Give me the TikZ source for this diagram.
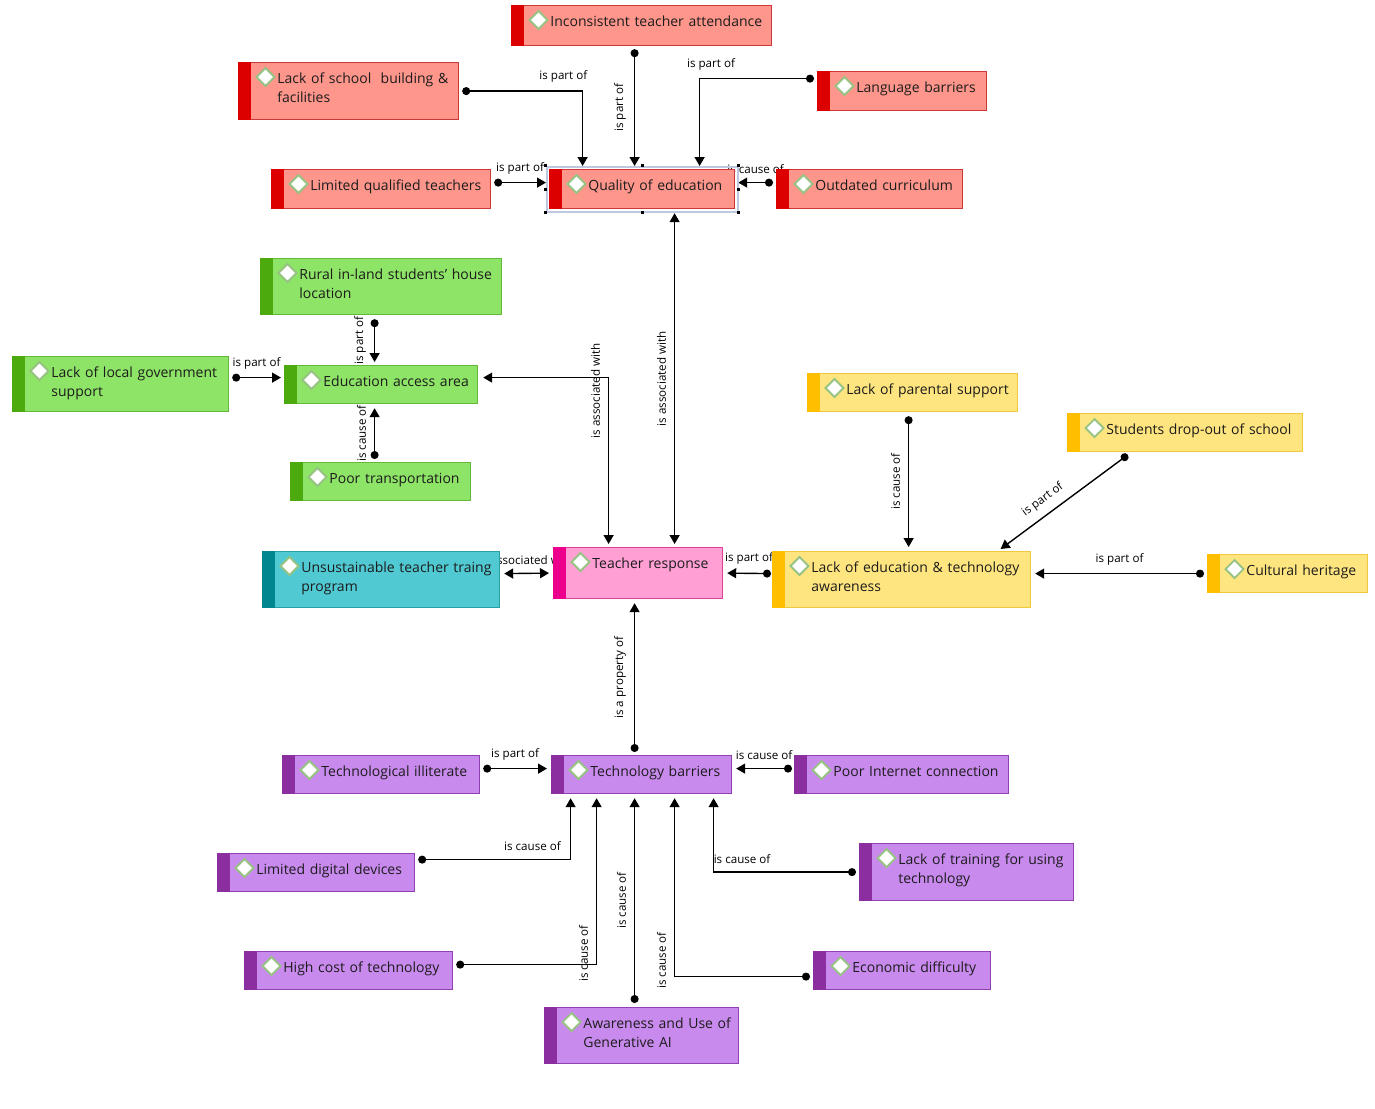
\documentclass[tikz,border=0pt]{standalone}
\usepackage{fontspec}
\setmainfont{Open Sans}
\usetikzlibrary{arrows.meta}
\usetikzlibrary{backgrounds}

\definecolor{redfill}{RGB}{255,150,140}
\definecolor{redbar}{RGB}{220,0,0}
\definecolor{redline}{RGB}{205,55,55}
\definecolor{greenfill}{RGB}{142,228,102}
\definecolor{greenbar}{RGB}{76,170,14}
\definecolor{greenline}{RGB}{98,184,58}
\definecolor{tealfill}{RGB}{80,201,210}
\definecolor{tealbar}{RGB}{0,134,143}
\definecolor{tealline}{RGB}{40,160,168}
\definecolor{pinkfill}{RGB}{255,159,212}
\definecolor{pinkbar}{RGB}{236,0,140}
\definecolor{pinkline}{RGB}{224,64,154}
\definecolor{yellowfill}{RGB}{255,229,127}
\definecolor{yellowbar}{RGB}{255,191,0}
\definecolor{yellowline}{RGB}{240,200,60}
\definecolor{purplefill}{RGB}{201,138,238}
\definecolor{purplebar}{RGB}{139,47,160}
\definecolor{purpleline}{RGB}{144,64,176}
\definecolor{iconline}{RGB}{150,195,130}
\definecolor{textgray}{RGB}{28,28,28}
\definecolor{selblue}{RGB}{190,200,225}

\tikzset{
  conceptshape/.style={draw=#1line, fill=#1fill, line width=0.6pt, inner sep=0pt},
  icon/.style={draw=iconline, fill=white, line width=0.9pt},
  nodetext/.style={font=\fontsize{7}{9.5}\selectfont, text=textgray, text width=125pt, align=left, inner sep=0pt},
  rel/.style={font=\fontsize{5.8}{7}\selectfont, inner sep=4pt, anchor=south},
  link/.style={line width=0.7pt, {Circle[length=4pt]}-{Triangle[length=4.5pt,width=5pt]}},
  twoway/.style={line width=0.7pt, {Triangle[length=4.5pt,width=5pt]}-{Triangle[length=4.5pt,width=5pt]}},
  selframe/.style={draw=selblue, line width=1pt, inner sep=0pt, minimum width=95.5pt, minimum height=22.5pt},
}

% name, colour, x, y, width, height, text
\newcommand{\conceptbox}[7]{%
  \node[conceptshape=#2, minimum width=#5*0.5pt, minimum height=#6*0.5pt, anchor=north west] (#1) at (#3,#4) {};
  \fill[#2bar] (#1.north west) rectangle ([xshift=6.5pt]#1.south west);
  \filldraw[icon] ([xshift=13.75pt,yshift=-7.5pt]#1.north west) +(-4.5pt,0) -- +(0,4.5pt) -- +(4.5pt,0) -- +(0,-4.5pt) -- cycle;
  \node[nodetext, anchor=base west] (#1-text) at ([xshift=19.5pt,yshift=-10.5pt]#1.north west) {#7};
}

\begin{document}
\begin{tikzpicture}[x=0.5pt,y=-0.5pt]
\useasboundingbox (0,0) rectangle (1375,1108);

% quality of education
\conceptbox{inc}{red}{511}{5}{260}{40}{Inconsistent teacher attendance}
\conceptbox{bldg}{red}{238}{62}{220}{57}{Lack of school~~building \&\\facilities}
\conceptbox{lang}{red}{817}{71}{169}{39}{Language barriers}
\conceptbox{lqt}{red}{271}{169}{219}{39}{Limited qualified teachers}
\conceptbox{qual}{red}{549}{169}{185}{39}{Quality of education}
\conceptbox{curr}{red}{776}{169}{186}{39}{Outdated curriculum}
% access
\conceptbox{rural}{green}{260}{258}{241}{56}{Rural in-land students' house\\location}
\conceptbox{govt}{green}{12}{356}{216}{55}{Lack of local government\\support}
\conceptbox{access}{green}{284}{365}{193}{38}{Education access area}
\conceptbox{transp}{green}{290}{462}{180}{38}{Poor transportation}
% teachers
\conceptbox{train}{teal}{262}{551}{237}{56}{Unsustainable teacher traing\\program}
\conceptbox{resp}{pink}{553}{547}{169}{51}{Teacher response}
% awareness
\conceptbox{parent}{yellow}{807}{373}{210}{38}{Lack of parental support}
\conceptbox{dropout}{yellow}{1067}{413}{235}{38}{Students drop-out of school}
\conceptbox{aware}{yellow}{772}{551}{258}{56}{Lack of education \& technology\\awareness}
\conceptbox{culture}{yellow}{1207}{554}{160}{38}{Cultural heritage}
% technology
\conceptbox{illit}{purple}{282}{755}{197}{38}{Technological illiterate}
\conceptbox{techbar}{purple}{551}{755}{180}{38}{Technology barriers}
\conceptbox{internet}{purple}{794}{755}{214}{38}{Poor Internet connection}
\conceptbox{devices}{purple}{217}{853}{197}{38}{Limited digital devices}
\conceptbox{skills}{purple}{859}{843}{214}{57}{Lack of training for using\\technology}
\conceptbox{cost}{purple}{244}{951}{208}{38}{High cost of technology}
\conceptbox{econ}{purple}{813}{951}{177}{38}{Economic difficulty}
\conceptbox{genai}{purple}{544}{1007}{194}{56}{Awareness and Use of\\Generative AI}

\begin{pgfonlayer}{background}
\fill[white] (0,0) rectangle (1375,1108);
% into quality of education
\draw[link] ([xshift=-3.5pt,yshift=-1.5pt]inc.south) -- ([xshift=-3.75pt,yshift=1.5pt]qual.north) node[rel,midway,rotate=90] {is part of};
\draw[link] ([xshift=1.5pt]bldg.east) -| ([xshift=-29.75pt,yshift=1.5pt]qual.north) node[rel,pos=0.42] {is part of};
\draw[link] ([xshift=-1.5pt,yshift=6.25pt]lang.west) -| ([xshift=28.75pt,yshift=1.5pt]qual.north) node[rel,pos=0.45] {is part of};
\draw[link] ([xshift=1.5pt,yshift=3.25pt]lqt.east) -- ([xshift=-1.5pt,yshift=3.25pt]qual.west) node[rel,midway] {is part of};
\draw[link] ([xshift=-1.5pt,yshift=3.25pt]curr.west) -- ([xshift=1.5pt,yshift=3.25pt]qual.east) node[rel,midway] {is cause of};
\draw[twoway] ([xshift=16.25pt,yshift=-2pt]qual.south) -- ([xshift=18.25pt,yshift=1.5pt]resp.north) node[rel,midway,rotate=90] {is associated with};
% into education access area
\draw[twoway] ([xshift=2.5pt,yshift=3.5pt]access.east) -| ([xshift=-14.75pt,yshift=1.5pt]resp.north) node[rel,pos=0.54,rotate=90] {is associated with};
\draw[link] ([xshift=-3.25pt,yshift=-2pt]rural.south) -- ([xshift=-3.25pt,yshift=1.5pt]access.north) node[rel,midway,rotate=90] {is part of};
\draw[link] ([xshift=1.5pt,yshift=3.25pt]govt.east) -- ([xshift=-1.5pt,yshift=3.5pt]access.west) node[rel,midway] {is part of};
\draw[link] ([xshift=-3pt,yshift=1.5pt]transp.north) -- ([xshift=-3.25pt,yshift=-2pt]access.south) node[rel,midway,rotate=90] {is cause of};
% into teacher response
\draw[twoway] ([xshift=2pt,yshift=3pt]train.east) -- ([xshift=-2pt]resp.west) node[rel,midway] {is associated with};
\draw[link] ([xshift=-0.5pt,yshift=3pt]aware.west) -- ([xshift=2pt]resp.east) node[rel,midway] {is part of};
\draw[link] ([xshift=-3.5pt,yshift=1.5pt]techbar.north) -- ([xshift=-1.75pt,yshift=-2pt]resp.south) node[rel,midway,rotate=90] {is a property of};
% into awareness
\draw[link] ([xshift=-2pt,yshift=-2pt]parent.south) -- ([xshift=3.5pt,yshift=2pt]aware.north) node[rel,midway,rotate=90] {is cause of};
\draw[link] ([xshift=-28.65pt,yshift=-1.3pt]dropout.south) -- ([xshift=49.5pt,yshift=1pt]aware.north) node[rel,pos=0.6,sloped] {is part of};
\draw[link] ([xshift=-1.5pt]culture.west) -- ([xshift=2pt,yshift=3pt]aware.east) node[rel,midway] {is part of};
% into technology barriers
\draw[link] ([xshift=1.5pt,yshift=3pt]illit.east) -- ([xshift=-2pt,yshift=3pt]techbar.west) node[rel,midway] {is part of};
\draw[link] ([xshift=-1pt,yshift=3pt]internet.west) -- ([xshift=2pt,yshift=3pt]techbar.east) node[rel,midway] {is cause of};
\draw[link] ([xshift=1.5pt,yshift=6.5pt]devices.east) -| ([xshift=-35.5pt,yshift=-2pt]techbar.south) node[rel,pos=0.375] {is cause of};
\draw[link] ([xshift=1.5pt,yshift=3pt]cost.east) -| ([xshift=-22.5pt,yshift=-2pt]techbar.south) node[rel,pos=0.533,rotate=90] {is cause of};
\draw[link] ([xshift=-3.5pt,yshift=2pt]genai.north) -- ([xshift=-3.5pt,yshift=-2pt]techbar.south) node[rel,midway,rotate=90] {is cause of};
\draw[link] ([xshift=-1.5pt,yshift=-3pt]econ.west) -| ([xshift=16.5pt,yshift=-2pt]techbar.south) node[rel,pos=0.545,rotate=90] {is cause of};
\draw[link] ([xshift=-1.5pt]skills.west) -| ([xshift=36pt,yshift=-2pt]techbar.south) node[rel,pos=0.4] {is cause of};
\end{pgfonlayer}

% selected node
\node[selframe] (qualsel) at (qual.center) {};
\foreach \corner in {north west,north,north east,west,east,south west,south,south east}
  \fill ([shift={(-0.8pt,-0.8pt)}]qualsel.\corner) rectangle ++(1.6pt,1.6pt);
\end{tikzpicture}
\end{document}
